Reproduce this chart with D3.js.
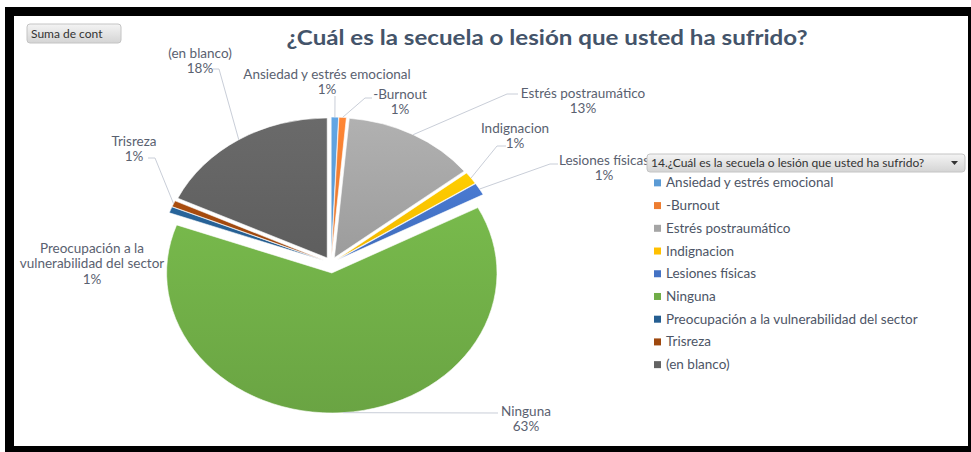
<!DOCTYPE html>
<html>
<head>
<meta charset="utf-8">
<script src="https://cdn.jsdelivr.net/npm/d3@7"></script>
<style>
  body { margin: 0; background: #fff; }
  svg { display: block; font-family: Lato, "Open Sans", sans-serif; }
</style>
</head>
<body>
<svg id="chart"></svg>
<script>
/* data */
var categories = [
  "Ansiedad y estrés emocional",
  "-Burnout",
  "Estrés postraumático",
  "Indignacion",
  "Lesiones físicas",
  "Ninguna",
  "Preocupación a la vulnerabilidad del sector",
  "Trisreza",
  "(en blanco)"
];
var counts = [1, 1, 18, 2, 2, 88, 1, 1, 25];
var percentLabels = ["1%", "1%", "13%", "1%", "1%", "63%", "1%", "1%", "18%"];
var colors = ["#5B9BD5", "#ED7D31", "#A5A5A5", "#FFC000", "#4472C4",
              "#70AD47", "#255E91", "#9E480E", "#636363"];
var titleText = "¿Cuál es la secuela o lesión que usted ha sufrido?";
var legendTitle = "14.¿Cuál es la secuela o lesión que usted ha sufrido?";
var buttonText = "Suma de cont";

var width = 971;
var height = 452;
var cx = 331, cy = 263;
var radius = 140;
var stretchX = 1.18;

/* label layout: text lines, centre x, first line y, leader line end points */
var labelLayout = [
  { lines: ["Ansiedad y estrés emocional"], x: 327, y: 74, lead: [[335, 96]] },
  { lines: ["-Burnout"], x: 400, y: 94, lead: [[365, 98], [372, 98]] },
  { lines: ["Estrés postraumático"], x: 583, y: 93, lead: [[507, 94], [518, 94]] },
  { lines: ["Indignacion"], x: 515, y: 128, lead: [[497, 146], [506, 146]] },
  { lines: ["Lesiones físicas"], x: 604, y: 160, lead: [[550, 164], [558, 164]] },
  { lines: ["Ninguna"], x: 526, y: 411, lead: [[498, 413]] },
  { lines: ["Preocupación a la", "vulnerabilidad del sector"], x: 92, y: 248, lead: null },
  { lines: ["Trisreza"], x: 134, y: 141, lead: [[155, 158], [148, 158]] },
  { lines: ["(en blanco)"], x: 200, y: 53, lead: [[219, 69], [213, 69]] }
];
var explode = [6, 6, 6, 6, 6, 10, 6, 6, 6];

var svg = d3.select("#chart").attr("width", width).attr("height", height);

/* frame */
svg.append("rect").attr("x", 0).attr("y", 0).attr("width", width).attr("height", height).attr("fill", "#fff");
svg.append("rect").attr("x", 5).attr("y", 7).attr("width", width - 5).attr("height", 9).attr("fill", "#000");
svg.append("rect").attr("x", 5).attr("y", 7).attr("width", 9).attr("height", height - 7).attr("fill", "#000");
svg.append("rect").attr("x", width - 3).attr("y", 7).attr("width", 3).attr("height", height - 7).attr("fill", "#000");
svg.append("rect").attr("x", 5).attr("y", height - 6).attr("width", width - 5).attr("height", 6).attr("fill", "#000");

var defs = svg.append("defs");
colors.forEach(function (c, i) {
  var g = defs.append("linearGradient").attr("id", "grad" + i)
    .attr("x1", 0).attr("y1", 0).attr("x2", 0).attr("y2", 1);
  g.append("stop").attr("offset", "0%").attr("stop-color", d3.color(c).brighter(0.2));
  g.append("stop").attr("offset", "100%").attr("stop-color", d3.color(c).darker(0.15));
});
var btnGrad = defs.append("linearGradient").attr("id", "btnGrad")
  .attr("x1", 0).attr("y1", 0).attr("x2", 0).attr("y2", 1);
btnGrad.append("stop").attr("offset", "0%").attr("stop-color", "#f4f4f4");
btnGrad.append("stop").attr("offset", "100%").attr("stop-color", "#d4d4d4");

/* "Suma de cont" button */
svg.append("rect").attr("x", 27).attr("y", 24).attr("width", 94).attr("height", 19)
  .attr("rx", 3).attr("fill", "url(#btnGrad)").attr("stroke", "#c4c4c4");
svg.append("text").attr("x", 31).attr("y", 38).attr("font-size", 12)
  .attr("fill", "#333").text(buttonText);

/* title */
svg.append("text").attr("x", 547).attr("y", 45).attr("text-anchor", "middle")
  .attr("font-size", 21).attr("font-weight", "bold").attr("fill", "#44546A")
  .attr("textLength", 521).attr("lengthAdjust", "spacingAndGlyphs")
  .text(titleText);

/* pie */
var pie = d3.pie().sort(null).value(function (d) { return d; });
var arcs = pie(counts);
var arc = d3.arc().innerRadius(0).outerRadius(radius);

var pieG = svg.append("g")
  .attr("transform", "translate(" + cx + "," + cy + ") scale(" + stretchX + ",1)");

pieG.selectAll("path")
  .data(arcs)
  .enter()
  .append("path")
  .attr("d", arc)
  .attr("fill", function (d, i) { return "url(#grad" + i + ")"; })
  .attr("stroke", "#fff")
  .attr("stroke-width", 0.6)
  .attr("vector-effect", "non-scaling-stroke")
  .attr("transform", function (d, i) {
    var mid = (d.startAngle + d.endAngle) / 2;
    return "translate(" + (explode[i] * Math.sin(mid)) + "," + (-explode[i] * Math.cos(mid)) + ")";
  });

/* point on the outer edge of a slice, at its mid angle */
var edgePoint = function (d, i, extra) {
  var mid = (d.startAngle + d.endAngle) / 2;
  var r = radius + explode[i] + extra;
  return [cx + stretchX * r * Math.sin(mid), cy - r * Math.cos(mid)];
};

/* leader lines */
var line = d3.line();
arcs.forEach(function (d, i) {
  var lay = labelLayout[i];
  if (!lay.lead) return;
  var pts = [edgePoint(d, i, 0)].concat(lay.lead);
  svg.append("path").attr("d", line(pts)).attr("fill", "none")
    .attr("stroke", "#c9ced8").attr("stroke-width", 1);
});

/* data labels */
arcs.forEach(function (d, i) {
  var lay = labelLayout[i];
  var t = svg.append("text").attr("text-anchor", "middle")
    .attr("font-size", 13.5).attr("fill", "#5a6170");
  lay.lines.concat([percentLabels[i]]).forEach(function (s, k) {
    t.append("tspan").attr("x", lay.x).attr("y", lay.y + 4.5 + k * 15.5).text(s);
  });
});

/* legend */
var legX = 647, legY = 154;
svg.append("rect").attr("x", legX).attr("y", legY).attr("width", 318).attr("height", 18)
  .attr("rx", 3).attr("fill", "url(#btnGrad)").attr("stroke", "#c4c4c4");
svg.append("text").attr("x", legX + 4).attr("y", legY + 13).attr("font-size", 12)
  .attr("fill", "#333").text(legendTitle);
svg.append("path")
  .attr("d", "M" + (legX + 304) + "," + (legY + 7) + "l7,0l-3.5,4z")
  .attr("fill", "#333");

var legRow = d3.scaleBand().domain(categories).range([171.5, 376]);
var legend = svg.selectAll(".leg").data(categories).enter().append("g")
  .attr("class", "leg")
  .attr("transform", function (d) { return "translate(654," + (legRow(d) + legRow.bandwidth() / 2) + ")"; });
legend.append("rect").attr("x", 0).attr("y", -3.5).attr("width", 7).attr("height", 7)
  .attr("fill", function (d, i) { return colors[i]; });
legend.append("text").attr("x", 12).attr("y", 4.5).attr("font-size", 13.5)
  .attr("fill", "#4d5566").text(function (d) { return d; });
</script>
</body>
</html>
